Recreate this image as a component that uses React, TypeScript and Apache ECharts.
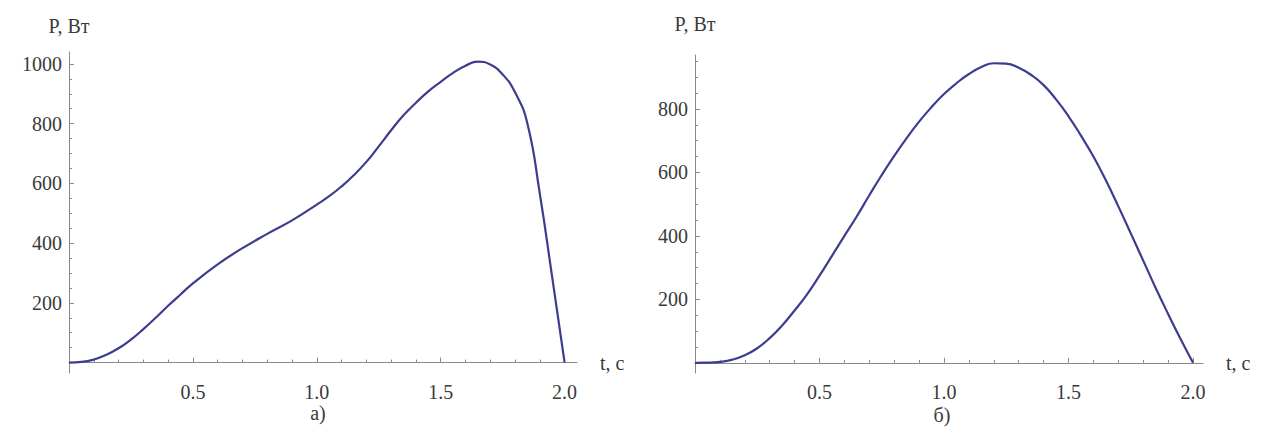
import React, { useEffect, useRef } from "react";
import * as echarts from "echarts";

// ---- data ----
const timeA = [0, 0.05, 0.1, 0.15, 0.2, 0.25, 0.3, 0.35, 0.4, 0.45, 0.5, 0.6, 0.7, 0.8, 0.9, 1.0, 1.05, 1.1, 1.15, 1.2, 1.25, 1.3, 1.35, 1.4, 1.45, 1.5, 1.55, 1.6, 1.65, 1.7, 1.75, 1.8, 1.85, 1.9, 1.95, 2.0];
const powerA = [0, 2, 10, 26, 48, 77, 112, 150, 190, 228, 265, 329, 383, 431, 476, 529, 557, 590, 628, 672, 724, 778, 828, 870, 908, 940, 970, 994, 1008, 998, 965, 905, 800, 565, 285, 0];

const timeB = [0, 0.05, 0.1, 0.15, 0.2, 0.25, 0.3, 0.35, 0.4, 0.45, 0.5, 0.55, 0.6, 0.65, 0.7, 0.75, 0.8, 0.85, 0.9, 0.95, 1.0, 1.05, 1.1, 1.15, 1.2, 1.25, 1.3, 1.35, 1.4, 1.45, 1.5, 1.55, 1.6, 1.65, 1.7, 1.75, 1.8, 1.85, 1.9, 1.95, 2.0];
const powerB = [0, 0.5, 3, 10, 24, 46, 78, 118, 165, 216, 275, 337, 400, 462, 528, 592, 652, 708, 760, 806, 847, 881, 910, 932, 944, 943, 930, 907, 875, 830, 777, 716, 650, 575, 493, 408, 322, 236, 154, 75, 0];

const xMajorTicks = [0, 0.5, 1.0, 1.5, 2.0];
const xLabelValues = [0.5, 1.0, 1.5, 2.0];
const xMinorTicks = [0.1, 0.2, 0.3, 0.4, 0.6, 0.7, 0.8, 0.9, 1.1, 1.2, 1.3, 1.4, 1.6, 1.7, 1.8, 1.9];
const yMajorTicksA = [0, 200, 400, 600, 800, 1000];
const yLabelValuesA = [200, 400, 600, 800, 1000];
const yMinorTicksA = [50, 100, 150, 250, 300, 350, 450, 500, 550, 650, 700, 750, 850, 900, 950];
const yMajorTicksB = [0, 200, 400, 600, 800];
const yLabelValuesB = [200, 400, 600, 800];
const yMinorTicksB = [50, 100, 150, 250, 300, 350, 450, 500, 550, 650, 700, 750, 850, 900, 950];

const yName = "P, Вт";
const xName = "t, с";
const captions = ["а)", "б)"];

const FONT = "Liberation Serif, DejaVu Serif, serif";
const AXIS_COLOR = "#8a8a8a";
const TEXT_COLOR = "#3a3a3a";
const LINE_COLOR = "#3d3d8f";
const FS = 20;

export default function App() {
  const ref = useRef<HTMLDivElement>(null);

  useEffect(() => {
    if (!ref.current) return;
    const chart = echarts.init(ref.current, null, { renderer: "svg" });

    const grids = [
      { left: 69, top: 52, width: 508, height: 321 },
      { left: 695, top: 55, width: 508, height: 318 },
    ];
    const xMax = [2.05, 2.04];
    const yMin = [-35, -32];
    const yMax = [1040, 970];
    const yMajor = [yMajorTicksA, yMajorTicksB];
    const yLabels = [yLabelValuesA, yLabelValuesB];
    const yMinor = [yMinorTicksA, yMinorTicksB];
    const yNameGap = [16, 21];

    const xAxes: any[] = [];
    const yAxes: any[] = [];
    [0, 1].forEach((g) => {
      xAxes.push({
        type: "value",
        gridIndex: g,
        position: "bottom",
        min: 0,
        max: xMax[g],
        name: xName,
        nameLocation: "end",
        nameGap: 23,
        nameTextStyle: { fontFamily: FONT, fontSize: FS, color: TEXT_COLOR, align: "left", verticalAlign: "middle" },
        axisLine: { onZero: true, lineStyle: { color: AXIS_COLOR, width: 1 } },
        axisTick: { show: true, inside: true, length: 5, customValues: xMajorTicks, lineStyle: { color: AXIS_COLOR } },
        axisLabel: {
          customValues: xLabelValues,
          fontFamily: FONT,
          fontSize: FS,
          color: TEXT_COLOR,
          margin: 9,
          formatter: (v: number) => v.toFixed(1),
        },
        splitLine: { show: false },
      });
      xAxes.push({
        type: "value",
        gridIndex: g,
        position: "bottom",
        min: 0,
        max: xMax[g],
        axisLine: { show: false, onZero: true, lineStyle: { color: AXIS_COLOR } },
        axisTick: { show: true, inside: true, length: 3, customValues: xMinorTicks, lineStyle: { color: AXIS_COLOR } },
        axisLabel: { show: false },
        splitLine: { show: false },
      });
      yAxes.push({
        type: "value",
        gridIndex: g,
        position: "left",
        min: yMin[g],
        max: yMax[g],
        name: yName,
        nameLocation: "end",
        nameGap: yNameGap[g],
        nameTextStyle: { fontFamily: FONT, fontSize: FS, color: TEXT_COLOR },
        axisLine: { show: true, onZero: false, lineStyle: { color: AXIS_COLOR, width: 1 } },
        axisTick: { show: true, inside: true, length: 5, customValues: yMajor[g], lineStyle: { color: AXIS_COLOR } },
        axisLabel: {
          customValues: yLabels[g],
          fontFamily: FONT,
          fontSize: FS,
          color: TEXT_COLOR,
          margin: 7,
          formatter: (v: number) => String(v),
        },
        splitLine: { show: false },
      });
      yAxes.push({
        type: "value",
        gridIndex: g,
        position: "left",
        offset: 0,
        min: yMin[g],
        max: yMax[g],
        axisLine: { show: false, onZero: false, lineStyle: { color: AXIS_COLOR } },
        axisTick: { show: true, inside: true, length: 3, customValues: yMinor[g], lineStyle: { color: AXIS_COLOR } },
        axisLabel: { show: false },
        splitLine: { show: false },
      });
    });

    const option: any = {
      animation: false,
      backgroundColor: "#ffffff",
      textStyle: { fontFamily: FONT },
      grid: grids,
      xAxis: xAxes,
      yAxis: yAxes,
      series: [
        {
          type: "line",
          xAxisIndex: 0,
          yAxisIndex: 0,
          data: timeA.map((t, i) => [t, powerA[i]]),
          showSymbol: false,
          smooth: 0.5,
          lineStyle: { color: LINE_COLOR, width: 2.2 },
        },
        {
          type: "line",
          xAxisIndex: 2,
          yAxisIndex: 2,
          data: timeB.map((t, i) => [t, powerB[i]]),
          showSymbol: false,
          smooth: 0.5,
          lineStyle: { color: LINE_COLOR, width: 2.2 },
        },
      ],
      graphic: [
        { type: "text", x: 318, y: 413, style: { text: captions[0], fontFamily: FONT, fontSize: FS, fill: TEXT_COLOR, align: "center", verticalAlign: "middle" } },
        { type: "text", x: 942, y: 415, style: { text: captions[1], fontFamily: FONT, fontSize: FS, fill: TEXT_COLOR, align: "center", verticalAlign: "middle" } },
      ],
    };
    chart.setOption(option);
    return () => chart.dispose();
  }, []);

  return (
    <div
      ref={ref}
      style={{ position: "absolute", left: 0, top: 0, width: 1265, height: 432, background: "#fff" }}
    />
  );
}
